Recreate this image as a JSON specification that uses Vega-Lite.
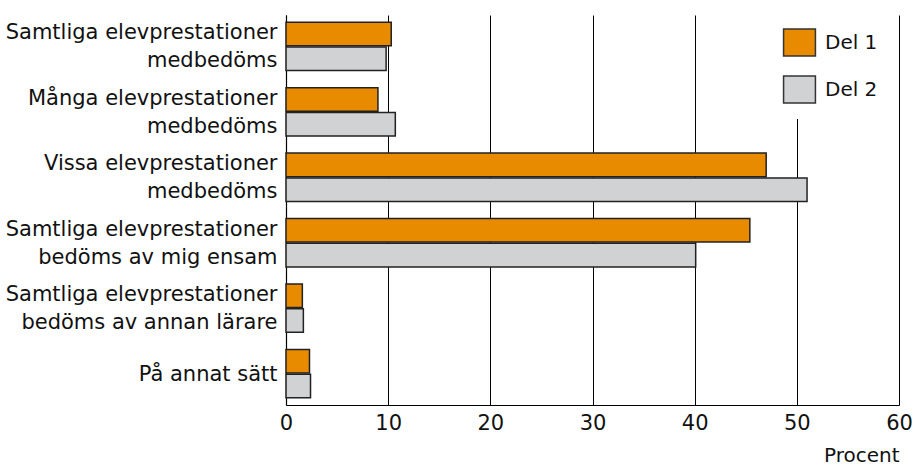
{
  "$schema": "https://vega.github.io/schema/vega-lite/v6.json",
  "autosize": "none",
  "width": 613,
  "height": 390,
  "padding": {"left": 286, "top": 15, "right": 16, "bottom": 60},
  "background": "white",
  "data": {
    "values": [
      {"kategori": "Samtliga elevprestationer|medbedöms", "del": "Del 1", "procent": 10.3},
      {"kategori": "Samtliga elevprestationer|medbedöms", "del": "Del 2", "procent": 9.8},
      {"kategori": "Många elevprestationer|medbedöms", "del": "Del 1", "procent": 9.0},
      {"kategori": "Många elevprestationer|medbedöms", "del": "Del 2", "procent": 10.7},
      {"kategori": "Vissa elevprestationer|medbedöms", "del": "Del 1", "procent": 47.0},
      {"kategori": "Vissa elevprestationer|medbedöms", "del": "Del 2", "procent": 51.0},
      {"kategori": "Samtliga elevprestationer|bedöms av mig ensam", "del": "Del 1", "procent": 45.4},
      {"kategori": "Samtliga elevprestationer|bedöms av mig ensam", "del": "Del 2", "procent": 40.1},
      {"kategori": "Samtliga elevprestationer|bedöms av annan lärare", "del": "Del 1", "procent": 1.6},
      {"kategori": "Samtliga elevprestationer|bedöms av annan lärare", "del": "Del 2", "procent": 1.7},
      {"kategori": "På annat sätt", "del": "Del 1", "procent": 2.3},
      {"kategori": "På annat sätt", "del": "Del 2", "procent": 2.4}
    ]
  },
  "mark": {"type": "bar", "stroke": "#222222", "strokeWidth": 1.5},
  "encoding": {
    "y": {
      "field": "kategori",
      "type": "nominal",
      "sort": null,
      "scale": {"paddingInner": 0.26, "paddingOuter": 0.11},
      "axis": {
        "title": null,
        "labelExpr": "split(datum.label, '|')",
        "labelFontSize": 21,
        "labelLineHeight": 28,
        "labelPadding": 9,
        "labelLimit": 400,
        "labelColor": "#111111",
        "labelOffset": {"condition": {"test": "datum.value == 'På annat sätt'", "value": 1}, "value": -13},
        "ticks": false,
        "domainColor": "#000000",
        "domainWidth": 1.2
      }
    },
    "yOffset": {"field": "del", "type": "nominal", "scale": {"paddingInner": 0.05}},
    "x": {
      "field": "procent",
      "type": "quantitative",
      "scale": {"domain": [0, 60], "nice": false},
      "axis": {
        "title": "Procent",
        "titleAnchor": "end",
        "titleFontSize": 20,
        "titleFontWeight": "normal",
        "titleColor": "#111111",
        "titlePadding": 12,
        "values": [0, 10, 20, 30, 40, 50, 60],
        "labelFlush": false,
        "labelFontSize": 21,
        "labelColor": "#111111",
        "labelPadding": 7,
        "ticks": false,
        "grid": true,
        "gridColor": "#000000",
        "gridWidth": 1,
        "gridOpacity": 1,
        "domainColor": "#000000",
        "domainWidth": 1.2
      }
    },
    "fill": {
      "field": "del",
      "type": "nominal",
      "scale": {"domain": ["Del 1", "Del 2"], "range": ["#E98B00", "#D1D2D4"]},
      "legend": {
        "title": null,
        "orient": "none",
        "legendX": 486,
        "legendY": 0,
        "fillColor": "white",
        "padding": 13,
        "symbolType": "M-1.18,-1H1.18V1H-1.18Z",
        "symbolSize": 729,
        "symbolStrokeColor": "#333333",
        "symbolStrokeWidth": 1.5,
        "symbolOpacity": 1,
        "labelFontSize": 20,
        "labelColor": "#111111",
        "labelOffset": 11,
        "rowPadding": 14
      }
    }
  },
  "config": {
    "font": "DejaVu Sans",
    "view": {"stroke": null}
  }
}
